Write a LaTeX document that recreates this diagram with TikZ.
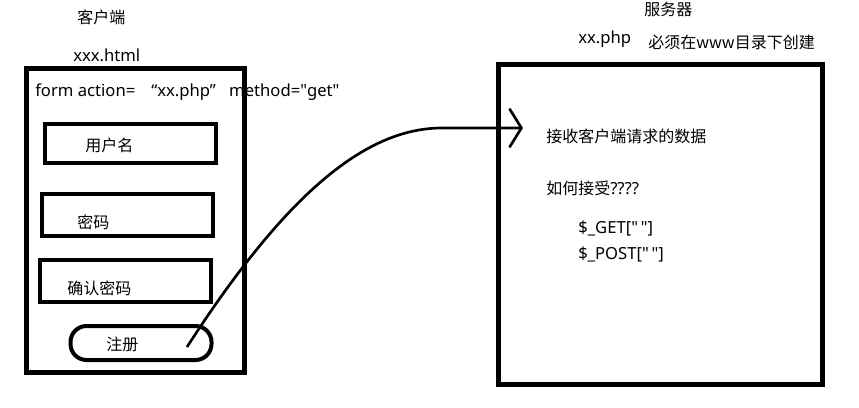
\documentclass[tikz,border=0pt]{standalone}
\usepackage{fontspec}
\setmainfont{Noto Sans}[Scale=1.04,Ligatures=ResetAll]
\newfontfamily\cjk{Noto Sans CJK SC}
\newcommand\dq{\textquotedbl}
\usetikzlibrary{arrows.meta}

\begin{document}
\begin{tikzpicture}
  [
    x=0.75pt,y=-0.75pt,
    txt/.style={inner sep=0pt,anchor=west,font=\fontsize{12}{14}\selectfont},
    frame/.style={draw,line width=3.75pt,inner sep=0pt},
    field/.style={draw,line width=3pt,inner sep=0pt},
    link/.style={line width=2pt,-{Straight Barb[length=9pt,width=29pt,line width=2pt]}}
  ]
  \useasboundingbox (0,0) rectangle (859,407);
  % client side
  \node (clienttitle) [txt] at (77,17) {\cjk 客户端};
  \node (clientfile) [txt] at (73,55) {xxx.html};
  \node (client) [frame,minimum width=218*0.75pt,minimum height=304*0.75pt] at (135,220) {};
  \node (formline) [txt] at (35,92) {form action=\hspace{12pt}“xx.php”\hspace{10pt}method=\dq get\dq};
  % form fields
  \foreach \name/\cx/\cy/\w/\h in {user/130/143/171/39, pwd/127/215/171/42, repwd/125/281/171/42} {
      \node (\name) [field,minimum width=\w*0.75pt,minimum height=\h*0.75pt] at (\cx,\cy) {};
  }
  \node (usertext) [txt] at (85,145) {\cjk 用户名};
  \node (pwdtext) [txt] at (77,222) {\cjk 密码};
  \node (repwdtext) [txt] at (67,288) {\cjk 确认密码};
  \node (submit) [field,rounded corners=12pt,minimum width=141*0.75pt,minimum height=34*0.75pt] at (141,343) {};
  \node (submittext) [txt] at (106,344) {\cjk 注册};
  % server side
  \node (servertitle) [txt] at (644,9) {\cjk 服务器};
  \node (serverfile) [txt] at (578,39) {xx.php};
  \node (servernote) [txt] at (648,42) {\cjk 必须在www目录下创建};
  \node (server) [frame,minimum width=324*0.75pt,minimum height=320*0.75pt] at (660,224) {};
  \node (recv) [txt] at (546,136) {\cjk 接收客户端请求的数据};
  \node (how) [txt] at (546,188) {{\cjk 如何接受}????};
  \node (get) [txt] at (578,228) {\$\_GET[\dq\,\dq]};
  \node (post) [txt] at (578,254) {\$\_POST[\dq\,\dq]};
  % request
  \coordinate (src) at (187,347);
  \coordinate (dst) at (523,128);
  \draw [link] (src) .. controls (285,195) and (365,128) .. (442,128) -- (dst);
\end{tikzpicture}
\end{document}
